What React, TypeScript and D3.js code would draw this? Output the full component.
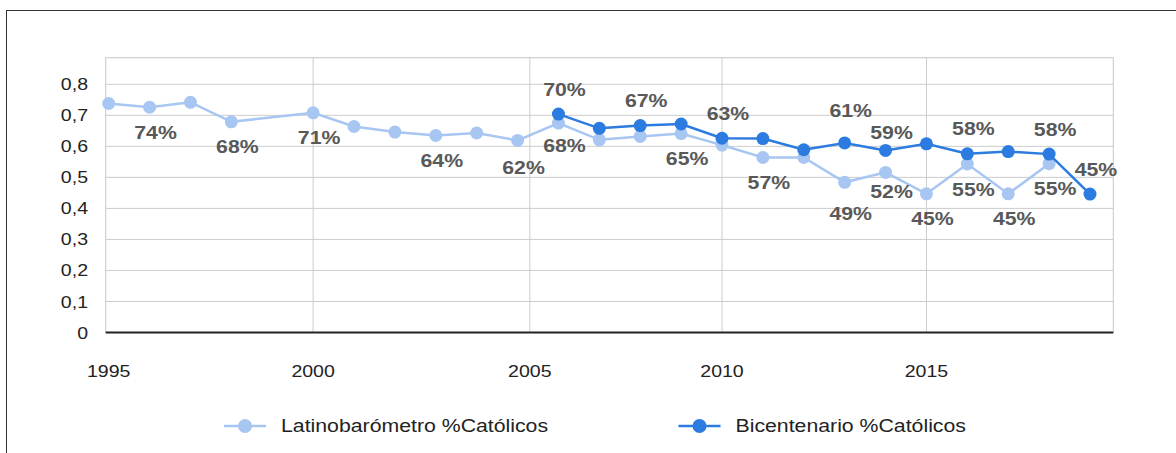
import React from "react";
import * as d3 from "d3";

// ---- data ----
const latinoYears = [1995, 1996, 1997, 1998, 2000, 2001, 2002, 2003, 2004, 2005, 2006, 2007, 2008, 2009, 2010, 2011, 2012, 2013, 2014, 2015, 2016, 2017, 2018];
const latinoValues = [0.738, 0.726, 0.742, 0.679, 0.708, 0.664, 0.646, 0.635, 0.643, 0.619, 0.675, 0.621, 0.632, 0.641, 0.604, 0.564, 0.564, 0.484, 0.516, 0.447, 0.543, 0.447, 0.544];
const latinoLabels = ["", "74%", "", "68%", "71%", "", "", "64%", "", "62%", "68%", "", "", "65%", "", "57%", "", "49%", "52%", "45%", "55%", "45%", "55%"];

const bicYears = [2006, 2007, 2008, 2009, 2010, 2011, 2012, 2013, 2014, 2015, 2016, 2017, 2018, 2019];
const bicValues = [0.704, 0.658, 0.667, 0.672, 0.626, 0.625, 0.589, 0.611, 0.587, 0.608, 0.576, 0.583, 0.575, 0.446];
const bicLabels = ["70%", "", "67%", "", "63%", "", "", "61%", "59%", "", "58%", "", "58%", "45%"];

const yTicks = [0, 0.1, 0.2, 0.3, 0.4, 0.5, 0.6, 0.7, 0.8];
const xTickValues = [1995, 2000, 2005.3, 2010, 2015];
const xTickLabels = ["1995", "2000", "2005", "2010", "2015"];
const seriesNames = ["Latinobarómetro %Católicos", "Bicentenario %Católicos"];

const LIGHT = "#a8c6f2";
const DARK = "#2b7be0";
const FONT = "'Liberation Sans', Arial, Helvetica, sans-serif";
const SX = 1.15;

const W = 1176;
const H = 453;
const left = 105.7, right = 1113.3, top = 57.7, bottom = 332.5;

const x = d3.scaleLinear().domain([1994.927, 2019.57]).range([left, right]);
const y = d3.scaleLinear().domain([0, 0.8857]).range([bottom, top]);

function T({ x, y, children, anchor = "middle", size = 17, weight = "normal", fill = "#222", baseline = "central" }: any) {
  return (
    <g transform={`translate(${x},${y}) scale(${SX},1)`}>
      <text x={0} y={0} textAnchor={anchor} dominantBaseline={baseline} fontSize={size} fontWeight={weight} fill={fill} fontFamily={FONT}>
        {children}
      </text>
    </g>
  );
}

// place labels near points, then spread apart neighbours that collide
function placeLabels(pts: [number, number][], labels: string[], dy: number) {
  const items = pts
    .map((p, i) => ({ text: labels[i], lx: x(p[0]) + 6, ly: y(p[1]) + dy }))
    .filter((d) => d.text);
  const bw = 46, bh = 22;
  for (let i = 0; i < items.length - 1; i++) {
    const a = items[i], b = items[i + 1];
    if (Math.abs(a.lx - b.lx) < bw && Math.abs(a.ly - b.ly) < bh) {
      const push = (bh - Math.abs(a.ly - b.ly)) / 2;
      if (a.ly <= b.ly) { a.ly -= push; b.ly += push; } else { a.ly += push; b.ly -= push; }
    }
  }
  return items;
}

export default function App() {
  const line = d3.line<[number, number]>().x((d) => x(d[0])).y((d) => y(d[1]));
  const latinoPts: [number, number][] = latinoYears.map((yr, i) => [yr, latinoValues[i]]);
  const bicPts: [number, number][] = bicYears.map((yr, i) => [yr, bicValues[i]]);

  const latinoLab = placeLabels(latinoPts, latinoLabels, 25);
  const bicLab = placeLabels(bicPts, bicLabels, -25);

  const legendItems = [
    { name: seriesNames[0], color: LIGHT, cx: 245 },
    { name: seriesNames[1], color: DARK, cx: 699.5 },
  ];

  return (
    <div style={{ position: "absolute", left: 0, top: 0 }}>
      <svg width={W} height={H} style={{ display: "block", background: "#fff" }}>
        {/* outer frame */}
        <rect x={6.5} y={10.5} width={1300} height={600} fill="none" stroke="#333" strokeWidth={1} />

        {/* horizontal gridlines */}
        {yTicks.filter((t) => t > 0).map((t) => (
          <line key={"hy" + t} x1={left} x2={right} y1={y(t)} y2={y(t)} stroke="#cccccc" strokeWidth={1} />
        ))}
        {/* vertical gridlines */}
        {xTickValues.slice(1).map((t) => (
          <line key={"vx" + t} x1={x(t)} x2={x(t)} y1={top} y2={bottom} stroke="#cccccc" strokeWidth={1} />
        ))}
        {/* plot border */}
        <rect x={left} y={top} width={right - left} height={bottom - top} fill="none" stroke="#c8c8c8" strokeWidth={1} />
        {/* zero axis */}
        <line x1={left} x2={right} y1={y(0)} y2={y(0)} stroke="#222" strokeWidth={2} />

        {/* y tick labels */}
        {yTicks.map((t) => (
          <T key={"yl" + t} x={88} y={y(t)} anchor="end">
            {t === 0 ? "0" : d3.format(".1f")(t).replace(".", ",")}
          </T>
        ))}
        {/* x tick labels */}
        {xTickValues.map((t, i) => (
          <T key={"xl" + t} x={x(t)} y={371}>
            {xTickLabels[i]}
          </T>
        ))}

        {/* series: Latinobarómetro */}
        <path d={line(latinoPts) || ""} fill="none" stroke={LIGHT} strokeWidth={2.5} />
        {latinoPts.map((p, i) => (
          <circle key={"lp" + i} cx={x(p[0])} cy={y(p[1])} r={6.5} fill={LIGHT} />
        ))}
        {/* series: Bicentenario */}
        <path d={line(bicPts) || ""} fill="none" stroke={DARK} strokeWidth={2.5} />
        {bicPts.map((p, i) => (
          <circle key={"bp" + i} cx={x(p[0])} cy={y(p[1])} r={6.5} fill={DARK} />
        ))}

        {/* data labels */}
        {latinoLab.map((d, i) => (
          <T key={"ll" + i} x={d.lx} y={d.ly} size={18.5} weight="bold" fill="#595959">
            {d.text}
          </T>
        ))}
        {bicLab.map((d, i) => (
          <T key={"bl" + i} x={d.lx} y={d.ly} size={18.5} weight="bold" fill="#595959">
            {d.text}
          </T>
        ))}

        {/* legend */}
        {legendItems.map((it) => (
          <g key={it.name}>
            <line x1={it.cx - 21} x2={it.cx + 21} y1={426} y2={426} stroke={it.color} strokeWidth={2.5} />
            <circle cx={it.cx} cy={426} r={7} fill={it.color} />
            <T x={it.cx + 36} y={426} anchor="start" size={18.5}>
              {it.name}
            </T>
          </g>
        ))}
      </svg>
    </div>
  );
}
